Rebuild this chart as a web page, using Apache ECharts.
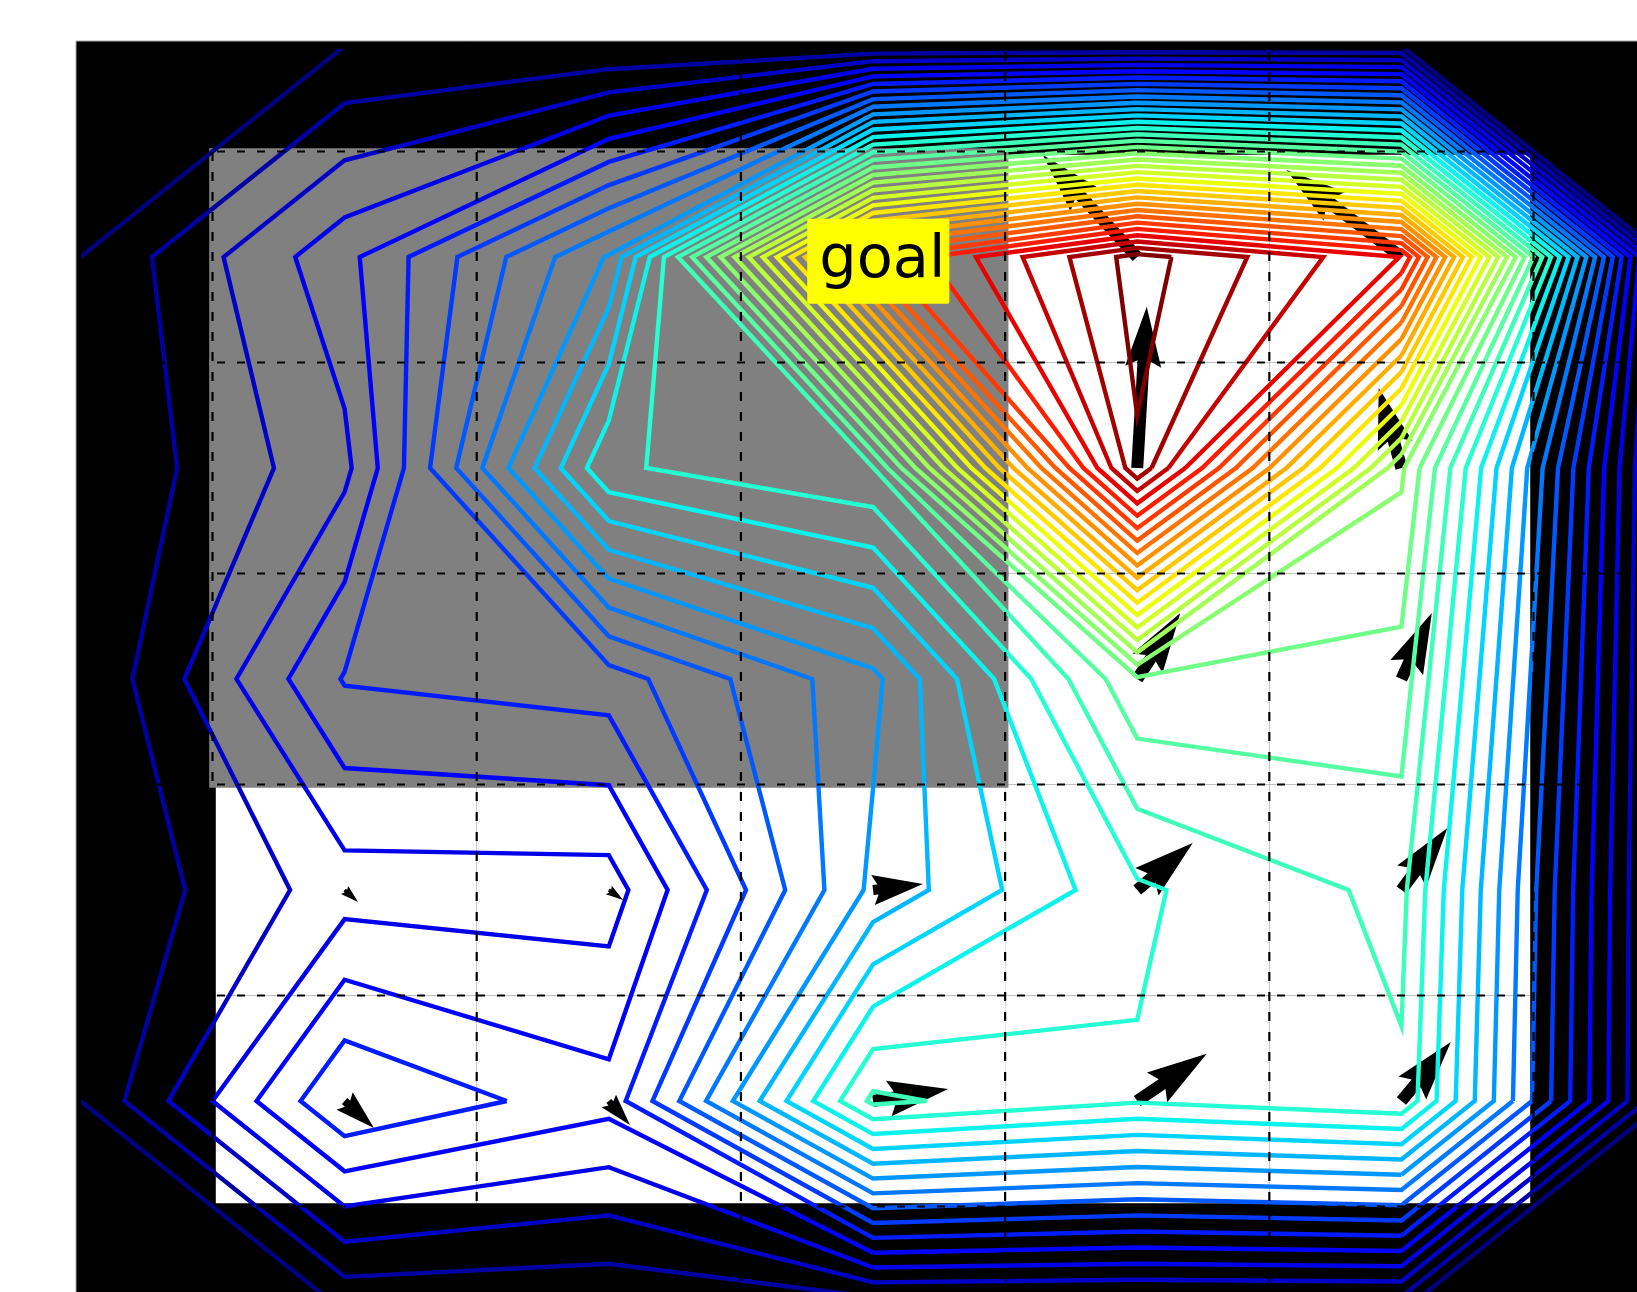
<!DOCTYPE html>
<html>
<head>
<meta charset="utf-8">
<style>
html,body{margin:0;padding:0;background:#fff;overflow:hidden}
#chart{width:1637px;height:1292px;filter:blur(0.7px)}
</style>
<script src="https://cdn.jsdelivr.net/npm/echarts@6/dist/echarts.min.js"></script>
</head>
<body>
<div id="chart"></div>
<script>
// Value grid, in units of one contour level; border cells are zero padding.
const valueRow0 = [0, 0, 0, 0, 0, 0, 0];
const valueRow1 = [0, 3.69, 9.1, 27.8, 33.45, 29.97, 0];
const valueRow2 = [0, 2.73, 12.84, 13.97, 32.85, 17.18, 0];
const valueRow3 = [0, 5.08, 5.52, 8.74, 15.85, 15.61, 0];
const valueRow4 = [0, 2.52, 2.5, 9.24, 12.84, 14.29, 0];
const valueRow5 = [0, 6.0, 4.37, 14.23, 13.1, 13.84, 0];
const valueRow6 = [0, 0, 0, 0, 0, 0, 0];
const contourLevels = [0,1,2,3,4,5,6,7,8,9,10,11,12,13,14,15,16,17,18,19,20,21,22,23,24,25,26,27,28,29,30,31,32,33];

// Background image cells (0.5 grey, 1 white), cell columns/rows 1..5.
const imageRow1 = [0.5, 0.5, 0.5, 1, 1];
const imageRow2 = [0.5, 0.5, 0.5, 1, 1];
const imageRow3 = [0.5, 0.5, 0.5, 1, 1];
const imageRow4 = [1, 1, 1, 1, 1];
const imageRow5 = [1, 1, 1, 1, 1];

// Quiver arrows: tail position and vector, grid units.
const arrowCol = [1, 2, 3, 4, 5, 1, 2, 3, 4, 5, 4, 5, 4, 5, 4, 5];
const arrowRow = [5, 5, 5, 5, 5, 4, 4, 4, 4, 4, 3, 3, 2, 2, 1, 1];
const arrowU = [0.111, 0.080, 0.284, 0.263, 0.187, 0.051, 0.054, 0.189, 0.210, 0.174, 0.163, 0.115, 0.036, -0.086, -0.357, -0.435];
const arrowV = [0.128, 0.114, -0.057, -0.224, -0.280, 0.057, 0.047, -0.028, -0.223, -0.294, -0.313, -0.313, -0.764, -0.379, -0.483, -0.412];

const gridLinesX = [0.5, 1.5, 2.5, 3.5, 4.5, 5.5];
const gridLinesY = [0.5, 1.5, 2.5, 3.5, 4.5, 5.5];
const goalLabel = 'goal';
const goalPoint = [3.02, 1.02];

const Z = [valueRow0, valueRow1, valueRow2, valueRow3, valueRow4, valueRow5, valueRow6];
const imageRows = [imageRow1, imageRow2, imageRow3, imageRow4, imageRow5];

const xMin = 0.01363, xMax = 5.8916, yMin = 0.0237, yMax = 5.9052;

function jet(t) {
  const seg = (p) => {
    for (let i = 1; i < p.length; i++) {
      if (t <= p[i][0]) {
        const a = p[i - 1], b = p[i];
        return a[1] + (b[1] - a[1]) * (t - a[0]) / (b[0] - a[0]);
      }
    }
    return p[p.length - 1][1];
  };
  const r = seg([[0,0],[0.35,0],[0.66,1],[0.89,1],[1,0.5]]);
  const g = seg([[0,0],[0.125,0],[0.375,1],[0.64,1],[0.91,0],[1,0]]);
  const b = seg([[0,0.5],[0.11,1],[0.34,1],[0.65,0],[1,0]]);
  return 'rgb(' + [r, g, b].map(v => Math.round(v * 255)).join(',') + ')';
}

// Marching squares over the value grid, linear along cell edges.
function contourAt(level) {
  const segs = [];
  const nr = Z.length - 1, nc = Z[0].length - 1;
  for (let r = 0; r < nr; r++) {
    for (let c = 0; c < nc; c++) {
      const tl = Z[r][c], tr = Z[r][c + 1], br = Z[r + 1][c + 1], bl = Z[r + 1][c];
      const a = [tl > level, tr > level, br > level, bl > level];
      const cross = (p, q, x0, y0, x1, y1) => {
        const t = (level - p) / (q - p);
        return [x0 + (x1 - x0) * t, y0 + (y1 - y0) * t];
      };
      const top = a[0] !== a[1] ? cross(tl, tr, c, r, c + 1, r) : null;
      const right = a[1] !== a[2] ? cross(tr, br, c + 1, r, c + 1, r + 1) : null;
      const bottom = a[3] !== a[2] ? cross(bl, br, c, r + 1, c + 1, r + 1) : null;
      const left = a[0] !== a[3] ? cross(tl, bl, c, r, c, r + 1) : null;
      const pts = [top, right, bottom, left].filter(Boolean);
      if (pts.length === 2) {
        segs.push([pts[0], pts[1]]);
      } else if (pts.length === 4) {
        const centre = (tl + tr + br + bl) / 4 > level;
        const isolateTR = a[0] === centre;
        if (isolateTR) { segs.push([top, right]); segs.push([left, bottom]); }
        else { segs.push([left, top]); segs.push([right, bottom]); }
      }
    }
  }
  const key = (p) => p[0].toFixed(5) + ',' + p[1].toFixed(5);
  // Segments lying on the padded border fall outside the axes frame.
  const onBorder = (s) =>
    (s[0][0] === 0 && s[1][0] === 0) || (s[0][1] === 0 && s[1][1] === 0) ||
    (s[0][0] === nc && s[1][0] === nc) || (s[0][1] === nr && s[1][1] === nr);
  const live = segs.filter(s => key(s[0]) !== key(s[1]) && !onBorder(s));
  const used = new Array(live.length).fill(false);
  const out = [];
  for (let i = 0; i < live.length; i++) {
    if (used[i]) continue;
    used[i] = true;
    const chain = [live[i][0], live[i][1]];
    let grown = true;
    while (grown) {
      grown = false;
      for (let j = 0; j < live.length; j++) {
        if (used[j]) continue;
        const s = live[j], head = key(chain[0]), tail = key(chain[chain.length - 1]);
        if (key(s[0]) === tail) { chain.push(s[1]); }
        else if (key(s[1]) === tail) { chain.push(s[0]); }
        else if (key(s[0]) === head) { chain.unshift(s[1]); }
        else if (key(s[1]) === head) { chain.unshift(s[0]); }
        else continue;
        used[j] = true;
        grown = true;
      }
    }
    if (out.length) out.push([NaN, NaN]);
    chain.forEach(p => out.push(p));
  }
  return out;
}

const cellData = [];
[1, 0.5].forEach(val => {
  imageRows.forEach((row, i) => row.forEach((v, j) => {
    if (v === val) cellData.push([j + 1, i + 1, v]);
  }));
});

const arrowData = arrowCol.map((c, i) => [c, arrowRow[i], arrowU[i], arrowV[i]]);

const series = [];
series.push({
  type: 'custom', coordinateSystem: 'cartesian2d', silent: true, animation: false, z: 1, clip: false,
  data: cellData,
  renderItem: function (params, api) {
    const c = api.value(0), r = api.value(1), v = api.value(2);
    const a = api.coord([c - 0.5, r - 0.5]), b = api.coord([c + 0.5, r + 0.5]);
    const e = 3.3;
    let x0 = a[0], y0 = a[1], x1 = b[0], y1 = b[1];
    if (v === 0.5) { x0 -= e; y0 -= e; x1 += e; y1 += e; }
    else {
      if (c === 1) x0 += e;
      if (c === 5) x1 -= e;
      if (r === 1) y0 += e;
      if (r === 5) y1 -= e;
    }
    return { type: 'rect', shape: { x: x0, y: y0, width: x1 - x0, height: y1 - y0 },
             style: { fill: v === 0.5 ? '#808080' : '#ffffff' } };
  }
});
series.push({
  type: 'custom', coordinateSystem: 'cartesian2d', silent: true, animation: false, z: 2,
  data: arrowData,
  renderItem: function (params, api) {
    const c = api.value(0), r = api.value(1), u = api.value(2), v = api.value(3);
    const p0 = api.coord([c, r]), p1 = api.coord([c + u, r + v]);
    const dx = p1[0] - p0[0], dy = p1[1] - p0[1];
    const L = Math.hypot(dx, dy), w = 12;
    const hl = 5, ha = 4.5, hw = 3;
    const len = L / w;
    let xs, ys;
    if (len >= hl) {
      xs = [0, len - ha, len - hl, len];
      ys = [0.5, 0.5, hw / 2, 0];
    } else {
      const s = len / hl;
      xs = [0, (hl - ha) * s, 0, hl * s];
      ys = [0.5 * s, 0.5 * s, hw / 2 * s, 0];
    }
    const ux = dx / L, uy = dy / L;
    const pts = [];
    for (let i = 0; i < 4; i++) pts.push([p0[0] + (xs[i] * ux - ys[i] * uy) * w, p0[1] + (xs[i] * uy + ys[i] * ux) * w]);
    for (let i = 2; i >= 0; i--) pts.push([p0[0] + (xs[i] * ux + ys[i] * uy) * w, p0[1] + (xs[i] * uy - ys[i] * ux) * w]);
    return { type: 'polygon', shape: { points: pts }, style: { fill: '#000' } };
  }
});
contourLevels.forEach((lv, i) => {
  series.push({
    type: 'line', silent: true, animation: false, z: 3, symbol: 'none', showSymbol: false, clip: true,
    connectNulls: false,
    data: contourAt(lv),
    lineStyle: { color: jet(i / (contourLevels.length - 1)), width: 4.4, join: 'miter', miterLimit: 10, cap: 'butt' }
  });
});
gridLinesX.forEach(x => series.push({
  type: 'line', silent: true, animation: false, z: 4, symbol: 'none', showSymbol: false,
  data: [[x, yMin], [x, yMax]],
  lineStyle: { color: '#000', width: 2.2, type: [9, 11], dashOffset: 19 }
}));
gridLinesY.forEach(y => series.push({
  type: 'line', silent: true, animation: false, z: 4, symbol: 'none', showSymbol: false,
  data: [[xMin, y], [xMax, y]],
  lineStyle: { color: '#000', width: 2.2, type: [8, 12], dashOffset: 7 }
}));
series.push({
  type: 'scatter', silent: true, animation: false, z: 5, symbolSize: 1,
  itemStyle: { color: 'rgba(0,0,0,0)', opacity: 1 },
  data: [goalPoint],
  label: {
    show: true, position: 'inside', formatter: goalLabel, color: '#000', opacity: 1,
    fontFamily: 'DejaVu Sans', fontSize: 59, lineHeight: 60,
    backgroundColor: '#ffff00', padding: [15, 4, 10, 12], borderRadius: 2
  }
});

const chart = echarts.init(document.getElementById('chart'), null, { renderer: 'canvas', width: 1637, height: 1292 });
chart.setOption({
  backgroundColor: '#ffffff',
  animation: false,
  grid: { left: 84, top: 51, width: 1553, height: 1241, containLabel: false },
  xAxis: { type: 'value', min: xMin, max: xMax, show: false },
  yAxis: { type: 'value', min: yMin, max: yMax, inverse: true, show: false },
  graphic: { elements: [{ type: 'rect', z: -10, silent: true,
    shape: { x: 76, y: 41, width: 1570, height: 1260 },
    style: { fill: '#000', stroke: '#a8a8a8', lineWidth: 1 } }] },
  series: series
});
</script>
</body>
</html>
